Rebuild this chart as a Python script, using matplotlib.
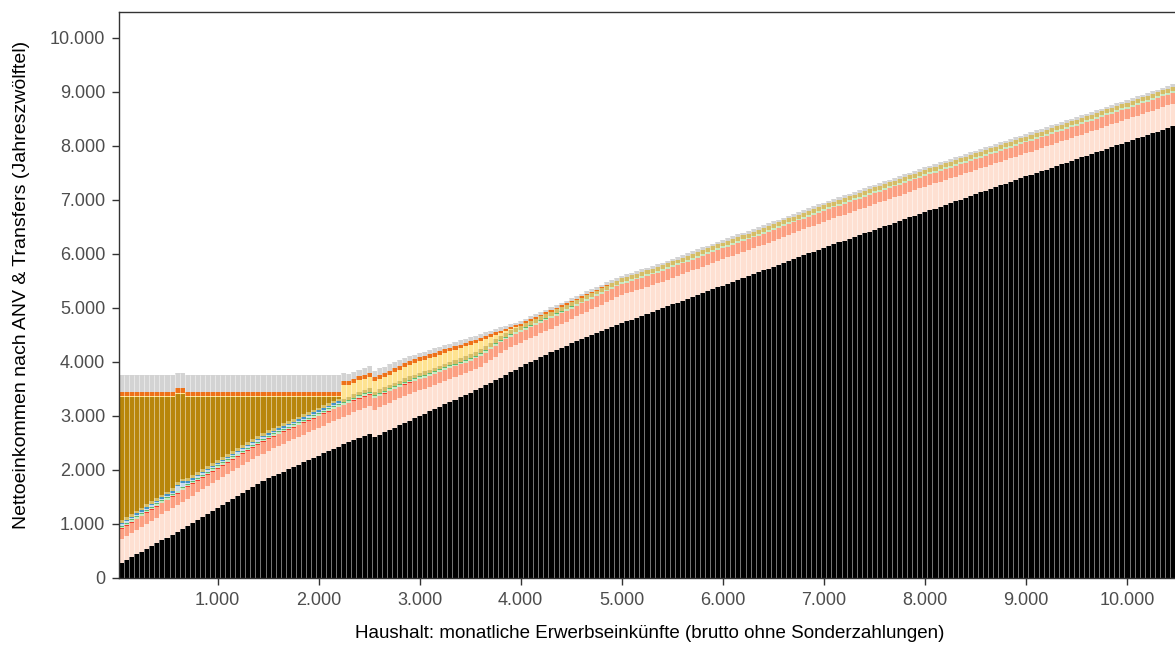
import numpy as np
import matplotlib
matplotlib.use("Agg")
import matplotlib.pyplot as plt
from matplotlib.ticker import FuncFormatter

plt.rcParams['font.family'] = ['Liberation Sans', 'DejaVu Sans']

# x categories: monthly gross household earnings (bins of 50)
income = np.arange(50, 10451, 50)
N = len(income)

black = [
280,332,384,436,488,540,592,644,696,748,
800,855,910,965,1020,1075,1130,1185,1240,1295,
1350,1405,1460,1515,1570,1625,1680,1735,1790,1845,
1887,1929,1971,2013,2055,2097,2139,2181,2223,2265,
2307,2349,2391,2433,2475,2516,2557,2598,2634,2667,
2611,2654,2697,2740,2783,2826,2869,2912,2955,2998,
3041,3084,3127,3170,3214,3258,3302,3346,3390,3434,
3478,3522,3568,3615,3662,3710,3760,3810,3860,3910,
3955,4000,4045,4090,4135,4178,4220,4262,4304,4346,
4388,4430,4468,4505,4542,4579,4616,4653,4690,4727,
4750,4785,4820,4855,4890,4925,4960,4995,5030,5065,
5100,5135,5170,5205,5240,5275,5310,5345,5380,5415,
5450,5485,5520,5555,5590,5625,5660,5695,5730,5765,
5800,5835,5870,5905,5940,5975,6010,6045,6080,6115,
6148,6181,6214,6247,6280,6313,6346,6379,6412,6445,
6478,6511,6544,6577,6610,6643,6676,6709,6742,6775,
6808,6841,6874,6907,6940,6973,7006,7039,7072,7105,
7138,7171,7204,7237,7270,7303,7336,7369,7402,7435,
7467,7499,7531,7563,7595,7627,7659,7691,7723,7755,
7787,7819,7851,7883,7915,7947,7979,8011,8043,8075,
8107,8139,8171,8203,8235,8267,8299,8331,8363]

pink = [
440,445,450,455,460,465,470,475,480,485,
490,495,500,505,505,510,510,510,515,515,
515,515,515,515,515,515,515,515,515,515,
515,515,515,515,515,515,515,515,515,515,
515,515,515,515,510,510,510,510,510,510,
505,505,505,505,505,500,500,495,485,475,
464,456,449,441,432,424,415,406,398,390,
391,394,406,423,438,453,459,460,455,445,
444,442,441,439,437,437,438,439,440,441,
454,456,462,469,476,484,492,500,508,516,
520,515,510,505,500,496,493,490,490,490,
490,490,490,490,490,490,490,490,490,490,
488,486,484,482,480,480,480,480,480,480,
480,480,480,480,480,480,480,480,480,480,
480,480,480,480,480,480,480,480,480,480,
478,476,474,472,470,470,470,470,470,470,
468,466,464,462,460,458,456,454,452,450,
448,446,444,442,440,438,436,434,432,430,
430,429,428,427,426,425,424,423,422,421,
420,420,420,420,420,420,420,420,420,420,
420,420,420,420,420,420,420,420,420]

salmon = [
190,190,192,194,196,198,200,202,204,206,
208,210,212,214,215,215,215,215,215,215,
215,215,215,215,215,215,215,215,215,215,
215,215,215,215,215,215,215,215,215,215,
215,215,215,215,215,215,215,215,215,215,
212,212,210,210,208,208,206,206,205,205,
205,205,204,204,204,203,203,203,202,202,
200,200,200,200,200,200,200,200,200,200,
200,200,200,200,200,200,200,200,200,200,
200,200,200,200,200,200,200,200,200,200,
200,200,200,200,200,200,200,200,200,200,
200,200,200,200,200,200,200,200,200,200,
200,200,200,200,200,200,200,200,200,200,
200,200,200,200,200,200,200,200,200,200,
200,200,200,200,200,200,200,200,200,200,
200,200,200,200,200,200,200,200,200,200,
199,199,199,199,199,199,199,199,199,199,
199,199,199,199,199,199,199,199,199,199,
198,198,198,198,198,198,198,198,198,198,
198,198,198,198,198,198,198,198,198,198,
198,198,198,198,198,198,198,198,198]

# thin layers (values start at income 50; later bins are zero)
red = [
12,12,12,12,12,12,12,12,12,12,
12,12,12,12,12,12,12,12,12,12,
12,12,12,12,12,12,12,12,12,12,
12,12,12,12,12,12,12,12,12,12,
12,12,12,12,8,8,8,8,8,8,
8,8,8,8,8,8,8,8,8,8]

light_green = [
30,30,30,30,30,30,30,30,30,30,
30,30,30,30,30,30,30,30,30,30,
30,30,30,30,30,30,30,30,30,30,
30,30,30,30,30,30,30,30,30,30,
30,30,30,30,32,32,32,32,32,32,
32,32,32,32,32,32,32,32,32,32,
32,32,32,32,32,32,32,32,32,32,
32,32,32,32,32,32,32,32,32,32,
32,32,32,32,32,32,32,32,32,32,
32,32,32,32,32,32,32,32,32,32,
34,34,34,34,34,34,34,34,34,34,
34,34,34,34,34,34,34,34,34,34,
34,34,34,34,34,34,34,34,34,34,
34,34,34,34,34,34,34,34,34,34,
34,34,34,34,34,34,34,34,34,34,
36,36,36,36,36,36,36,36,36,36,
36,36,36,36,36,36,36,36,36,36,
36,36,36,36,36,36,36,36,36,36,
36,36,36,36,36,36,36,36,36,36,
36,36,36,36,36,36,36,36,36,36,
36,36,36,36,36,36,36,36,36]

green = [
18,18,18,18,18,18,18,18,18,18,
18,18,18,18,18,18,18,18,18,18,
18,18,18,18,18,18,18,18,18,18,
18,18,18,18,18,18,18,18,18,18,
18,18,18,18,18,18,18,18,18,18,
18,18,18,18,18,18,18,18,18,18,
18,18,18,18,18,18,18,18,18,18,
16,16,16,15,15,15,14,14,14,13,
13,13,12,12,12,12,12,12,12,12]

light_blue = [
22,22,22,22,22,22,22,22,22,22,
22,80,80,22,22,22,22,22,22,22,
22,22,22,22,22,22,22,22,22,22,
22,22,22,22,22,22,22,22,22,22,
22,22,22,22]

blue = [
30,30,30,30,30,30,30,30,30,30,
30,30,30,30,30,30,30,30,30,30,
30,30,30,30,30,30,30,30,30,30,
30,30,30,30,30,30,30,30,30,30,
30,30,30,30]

khaki = [
48,48,48,48,48,48,48,48,48,48,
48,48,48,48,48,48,48,48,48,48,
48,48,48,48,48,48,48,48,48,48,
48,48,48,48,48,48,48,48,48,48,
48,48,48,48,60,60,60,61,61,61,
62,62,62,62,63,63,63,64,64,64,
65,65,66,66,67,67,68,68,69,69,
70,70,70,70,71,71,71,72,72,72,
72,72,72,72,72,72,72,72,72,72,
72,72,72,72,72,72,72,72,72,72,
72,72,72,72,72,72,72,72,72,72,
72,72,72,72,72,72,72,72,72,72,
73,73,73,73,73,73,73,73,73,73,
73,73,73,73,73,73,73,73,73,73,
73,73,73,73,73,73,73,73,73,73,
73,73,73,73,73,73,73,73,73,73,
73,73,73,73,73,74,74,74,74,74,
74,74,74,74,74,74,74,74,74,74,
74,74,74,74,74,74,74,74,74,74,
74,74,74,74,74,74,74,74,74,74,
74,74,74,74,74,74,74,74,74]

# upper edge of the social-assistance block
goldenrod_top = [
3350,3350,3350,3350,3350,3350,3350,3350,3350,3350,
3350,3407,3407,3350,3350,3350,3350,3350,3350,3350,
3350,3350,3350,3350,3350,3350,3350,3350,3350,3350,
3350,3350,3350,3350,3350,3350,3350,3350,3350,3350,
3350,3350,3350,3350]

light_yellow = [
20,20,20,20,20,20,20,20,20,20,
20,20,20,20,20,20,20,20,20,20,
20,20,20,20,20,20,20,20,20,20,
20,20,20,20,20,20,20,20,20,20,
20,20,20,20,250,215,215,215,212,215,
200,195,190,190,195,200,205,210,212,213,
212,208,204,200,196,192,188,184,180,175,
165,150,130,105,80,55,35,18,6]

orange = [
74,74,74,74,74,74,74,74,74,74,
74,93,93,74,74,74,74,74,74,74,
74,74,74,74,74,74,74,74,74,74,
74,74,74,74,74,74,74,74,74,74,
74,74,74,74,74,74,74,74,74,74,
74,74,74,74,74,74,74,74,74,74,
73,72,71,70,69,68,67,66,65,64,
63,62,58,54,50,46,44,42,40,38,
36,35,34,33,32,31,30,29,28,27,
26,24,22,20,18,15,12,9,6,3]

gray = [
315,315,315,315,315,315,315,315,315,315,
315,283,283,315,315,315,315,315,315,315,
315,315,315,315,315,315,315,315,315,315,
315,315,315,315,315,315,315,315,315,315,
315,315,315,315,160,125,125,125,125,125,
120,120,118,115,110,105,97,90,85,80,
80,80,79,79,78,78,77,77,76,76,
75,74,70,66,62,58,55,52,51,50,
50,50,50,50,50,50,50,50,50,50,
50,50,50,50,50,50,50,50,50,50,
50,50,50,50,50,50,50,50,50,50,
50,50,50,50,50,50,50,50,50,50,
50,50,50,50,50,50,50,50,50,50,
50,50,50,50,50,50,50,50,50,50,
50,50,50,50,50,50,50,50,50,50,
50,50,50,50,50,50,50,50,50,50,
50,50,50,50,50,50,50,50,50,50,
50,50,50,50,50,50,50,50,50,50,
50,50,50,50,50,50,50,50,50,50,
49,49,49,49,49,49,49,49,49,49,
49,49,49,49,49,49,49,49,49]


def full(vals):
    arr = np.zeros(N)
    arr[:len(vals)] = vals
    return arr


layers = [
    (full(black), "#000000"),
    (full(pink), "#FEE0D2"),
    (full(salmon), "#FCA082"),
    (full(red), "#EF3B2C"),
    (full(light_green), "#C7E9C0"),
    (full(green), "#5DB96A"),
    (full(light_blue), "#C6DBEF"),
    (full(blue), "#4292C6"),
    (full(khaki), "#D5BD66"),
]
below = np.sum([l[0] for l in layers], axis=0)
gr = np.clip(full(goldenrod_top) - below, 0, None)
gr[len(goldenrod_top):] = 0
layers += [
    (gr, "#B8860B"),
    (full(light_yellow), "#FEE391"),
    (full(orange), "#EE7118"),
    (full(gray), "#D3D3D3"),
]

W, H = 1175, 647
fig = plt.figure(figsize=(W / 100, H / 100), dpi=100)
ax = fig.add_axes([119 / W, 1 - 578 / H, (1175 - 119) / W, (578 - 12) / H])

bottom = np.zeros(N)
for vals, col in layers:
    ax.bar(income, vals, width=50, bottom=bottom, color=col, linewidth=0,
           zorder=2)
    bottom = bottom + vals

# thin white separators between neighbouring bars
edges = income[1:] - 25
sep_h = np.maximum(bottom[1:], bottom[:-1])
ax.vlines(edges, 0, sep_h, colors="white", linewidth=0.6, alpha=0.55,
          zorder=3)

ax.set_xlim(25, 10475)
ax.set_ylim(0, 10480)
ax.set_yticks(np.arange(0, 10001, 1000))
ax.set_xticks(np.arange(1000, 10001, 1000))
fmt = FuncFormatter(lambda v, p: f"{int(v):,}".replace(",", "."))
ax.xaxis.set_major_formatter(fmt)
ax.yaxis.set_major_formatter(fmt)
for s in ["left", "top", "bottom"]:
    ax.spines[s].set_color("#333333")
    ax.spines[s].set_linewidth(1.0)
    ax.spines[s].set_zorder(5)
ax.spines["right"].set_visible(False)
ax.tick_params(direction="out", length=5, width=1, color="#333333",
               labelcolor="#4D4D4D", labelsize=13, pad=5)

fig.text(22 / W, 1 - 285 / H, "Nettoeinkommen nach ANV & Transfers (Jahreszwölftel)",
         rotation=90, ha="center", va="center", fontsize=14, color="#000000")
fig.text(650 / W, 1 - 634 / H,
         "Haushalt: monatliche Erwerbseinkünfte (brutto ohne Sonderzahlungen)",
         ha="center", va="center", fontsize=13.5, color="#000000")

fig.savefig("out.png", dpi=100)
